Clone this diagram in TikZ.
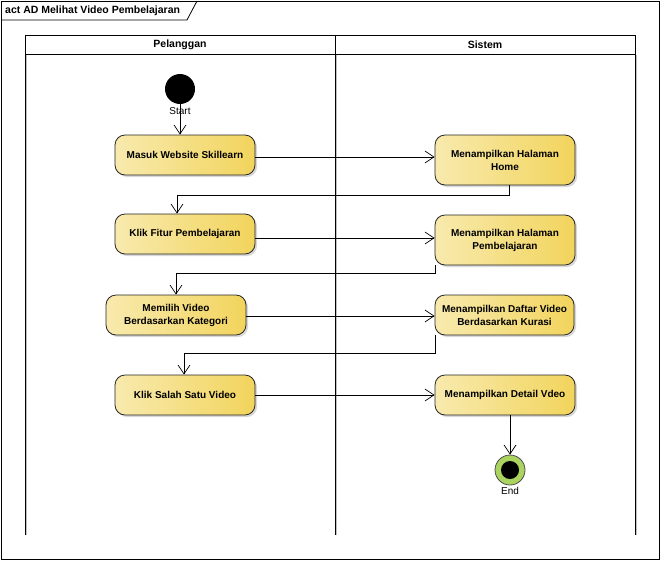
\documentclass[tikz,border=0pt]{standalone}
\usepackage{fontspec}
\setmainfont{Liberation Sans}
\usetikzlibrary{arrows.meta,shadows,calc}
\definecolor{actL}{HTML}{F8EAAE}
\definecolor{actR}{HTML}{F2D45C}
\definecolor{endG}{HTML}{ABD35F}
\tikzset{
  action/.style={rounded corners=10pt, draw=black!85, line width=0.8pt,
    left color=actL, right color=actR, align=center, inner sep=0pt,
    font=\fontsize{10}{13}\selectfont\bfseries, text=black,
    minimum width=140pt, minimum height=40pt,
    drop shadow={shadow xshift=2pt, shadow yshift=-2pt, fill=black!30, opacity=0.5}},
  flow/.style={line width=0.7pt, -{Straight Barb[length=9pt,width=12pt,line width=0.7pt]}},
  lane/.style={line width=1pt, draw=black},
  heading/.style={font=\fontsize{10.5}{12}\selectfont\bfseries, inner sep=0pt},
  lbl/.style={font=\fontsize{10}{12}\selectfont, inner sep=0pt}
}
\begin{document}
\begin{tikzpicture}[x=1pt,y=-1pt]
\useasboundingbox (0,0) rectangle (660,560);
% frame and title tab
\draw[line width=1pt] (1,1) rectangle (659,559);
\draw[line width=0.8pt] (1,20) -- (187,20) -- (197,1);
\node[heading, anchor=west] (title) at (5,10.5) {act AD Melihat Video Pembelajaran};
% swimlanes
\draw[lane, draw=black!25] (26.5,55) -- (26.5,535) (336.5,55) -- (336.5,535) (636.5,55) -- (636.5,535);
\draw[lane] (25,535) -- (25,35) -- (635,35) -- (635,535);
\draw[lane] (25,54) -- (635,54);
\draw[lane] (335,35) -- (335,535);
\node[heading] (h1) at (180,44.5) {Pelanggan};
\node[heading] (h2) at (485,44.5) {Sistem};
% start and end
\node[circle, fill=black, minimum size=30pt, inner sep=0pt] (start) at (180,89) {};
\node[lbl] (startl) at (180,111) {Start};
\node[circle, draw=black!70, line width=0.8pt, fill=endG, minimum size=30pt, inner sep=0pt] (end) at (510,470) {};
\node[circle, fill=black, minimum size=18pt, inner sep=0pt] (endin) at (510,470) {};
\node[lbl] (endl) at (510,491) {End};
% actions
\node[action] (a1) at (185,155) {Masuk Website  Skillearn};
\node[action] (a2) at (185,234) {Klik Fitur Pembelajaran};
\node[action] (a3) at (176,315) {Memilih Video\\Berdasarkan Kategori};
\node[action] (a4) at (185,395) {Klik  Salah  Satu Video};
\node[action, minimum height=50pt] (r1) at (505,160) {Menampilkan Halaman\\Home};
\node[action, minimum height=50pt] (r2) at (505,240) {Menampilkan Halaman\\Pembelajaran};
\node[action, minimum width=139pt] (r3) at (504.5,315) {Menampilkan Daftar Video\\Berdasarkan Kurasi};
\node[action] (r4) at (505,395) {Menampilkan Detail Vdeo};
% flows
\draw[flow] (start.south) -- (start.south |- a1.north);
\draw[flow] ([yshift=-2pt]a1.east) -- ([yshift=-2pt]a1.east -| r1.west);
\draw[flow] ([xshift=4pt]r1.south) -- ++(0,10) -| ([xshift=-8pt]a2.north);
\draw[flow] ([yshift=-4pt]a2.east) -- ([yshift=-4pt]a2.east -| r2.west);
\draw[flow] ([xshift=1pt]r2.south west) -- ++(0,8) -| (a3.north);
\draw[flow] ([yshift=-1pt]a3.east) -- ([yshift=-1pt]a3.east -| r3.west);
\draw[flow] ([xshift=1pt]r3.south west) -- ++(0,18) -| ([xshift=-1pt]a4.north);
\draw[flow] (a4.east) -- (r4.west);
\draw[flow] ([xshift=5pt]r4.south) -- (end.north);
\end{tikzpicture}
\end{document}
